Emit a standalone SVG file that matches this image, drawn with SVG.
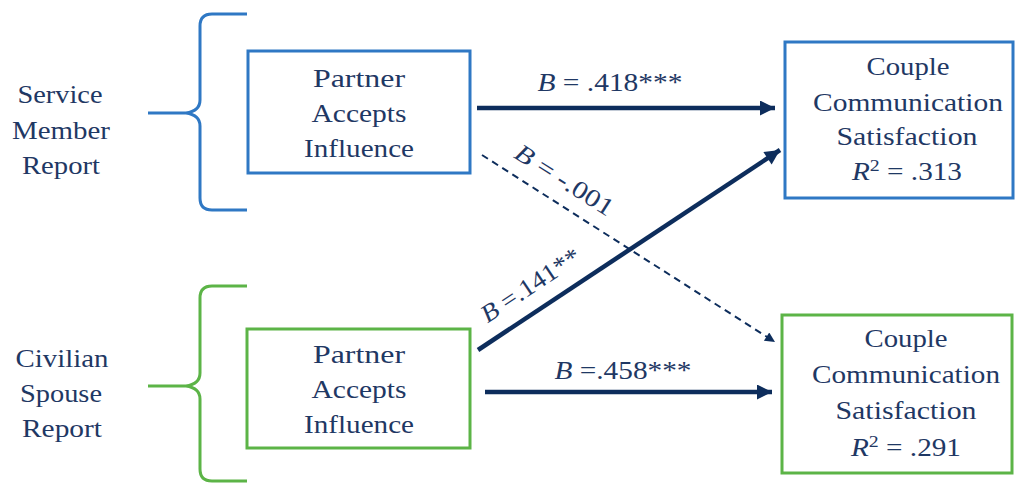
<svg xmlns="http://www.w3.org/2000/svg" width="1021" height="484" viewBox="0 0 1021 484">
<defs>
<style>
.t{font-family:"Liberation Serif","Times New Roman",serif;font-size:25px;fill:#1f3864;text-anchor:middle}
.blue{fill:none;stroke:#2f78c4;stroke-width:3}
.green{fill:none;stroke:#5cb447;stroke-width:3}
.box{fill:#fff}
.arr{fill:none;stroke:#0d2d5c;stroke-width:4.5}
.dash{fill:none;stroke:#0d2d5c;stroke-width:2;stroke-dasharray:7 5}
</style>
<marker id="ah" viewBox="0 0 10 10" refX="10" refY="5" markerUnits="userSpaceOnUse" markerWidth="20" markerHeight="15" orient="auto"><path d="M0,0 L10,5 L0,10 Z" fill="#0d2d5c"/></marker>
<marker id="ahs" viewBox="0 0 10 10" refX="10" refY="5" markerUnits="userSpaceOnUse" markerWidth="13" markerHeight="10" orient="auto"><path d="M0,0 L10,5 L0,10 Z" fill="#0d2d5c"/></marker>
</defs>
<rect width="1021" height="484" fill="#fff"/>

<g id="service-member-group">
<path class="blue" d="M247,14 H212 Q200,14 200,26 V100 Q200,111 186,113 H148 M186,113 Q200,115 200,126 V198 Q200,210 212,210 H247"/>
<text class="t" x="60" y="103" textLength="85" lengthAdjust="spacingAndGlyphs">Service</text>
<text class="t" x="61" y="139" textLength="98" lengthAdjust="spacingAndGlyphs">Member</text>
<text class="t" x="61" y="174" textLength="78" lengthAdjust="spacingAndGlyphs">Report</text>
</g>

<g id="civilian-spouse-group">
<path class="green" d="M247,286 H212 Q200,286 200,298 V373 Q200,384 186,386 H148 M186,386 Q200,388 200,399 V469 Q200,481 212,481 H247"/>
<text class="t" x="62" y="367" textLength="93" lengthAdjust="spacingAndGlyphs">Civilian</text>
<text class="t" x="61" y="402" textLength="82" lengthAdjust="spacingAndGlyphs">Spouse</text>
<text class="t" x="62" y="437" textLength="80" lengthAdjust="spacingAndGlyphs">Report</text>
</g>

<g id="sm-partner-accepts">
<rect class="blue box" x="248" y="51" width="222" height="122"/>
<text class="t" x="359" y="87" textLength="92" lengthAdjust="spacingAndGlyphs">Partner</text>
<text class="t" x="359" y="122" textLength="95" lengthAdjust="spacingAndGlyphs">Accepts</text>
<text class="t" x="359" y="157" textLength="110" lengthAdjust="spacingAndGlyphs">Influence</text>
</g>

<g id="cs-partner-accepts">
<rect class="green box" x="247" y="329" width="223" height="119"/>
<text class="t" x="359" y="363" textLength="92" lengthAdjust="spacingAndGlyphs">Partner</text>
<text class="t" x="359" y="398" textLength="95" lengthAdjust="spacingAndGlyphs">Accepts</text>
<text class="t" x="359" y="433" textLength="110" lengthAdjust="spacingAndGlyphs">Influence</text>
</g>

<g id="sm-satisfaction">
<rect class="blue box" x="785" y="42" width="228" height="156"/>
<text class="t" x="908" y="75" textLength="83" lengthAdjust="spacingAndGlyphs">Couple</text>
<text class="t" x="908" y="111" textLength="190" lengthAdjust="spacingAndGlyphs">Communication</text>
<text class="t" x="907" y="145" textLength="141" lengthAdjust="spacingAndGlyphs">Satisfaction</text>
<text class="t" x="907" y="180" textLength="110" lengthAdjust="spacingAndGlyphs"><tspan font-style="italic">R</tspan><tspan font-size="17" dy="-9">2</tspan><tspan dy="9"> = .313</tspan></text>
</g>

<g id="cs-satisfaction">
<rect class="green box" x="782" y="315" width="230" height="158"/>
<text class="t" x="906" y="347" textLength="83" lengthAdjust="spacingAndGlyphs">Couple</text>
<text class="t" x="906" y="383" textLength="188" lengthAdjust="spacingAndGlyphs">Communication</text>
<text class="t" x="906" y="419" textLength="141" lengthAdjust="spacingAndGlyphs">Satisfaction</text>
<text class="t" x="906" y="456" textLength="110" lengthAdjust="spacingAndGlyphs"><tspan font-style="italic">R</tspan><tspan font-size="17" dy="-9">2</tspan><tspan dy="9"> = .291</tspan></text>
</g>

<g id="connectors">
<line class="arr" x1="477" y1="108" x2="775" y2="108" marker-end="url(#ah)"/>
<line class="dash" x1="482" y1="155" x2="775" y2="342" marker-end="url(#ahs)"/>
<line class="arr" x1="478" y1="350" x2="780" y2="150" marker-end="url(#ah)"/>
<line class="arr" x1="485" y1="392" x2="772" y2="392" marker-end="url(#ah)"/>
<text class="t" x="610" y="91" textLength="145" lengthAdjust="spacingAndGlyphs"><tspan font-style="italic">B</tspan> = .418***</text>
<text class="t" x="623" y="379" textLength="137" lengthAdjust="spacingAndGlyphs"><tspan font-style="italic">B</tspan> =.458***</text>
<text class="t" x="560" y="187" textLength="112" lengthAdjust="spacingAndGlyphs" transform="rotate(32.5 560 187)"><tspan font-style="italic">B</tspan> = -.001</text>
<text class="t" x="535" y="292" textLength="114" lengthAdjust="spacingAndGlyphs" transform="rotate(-33.5 535 292)"><tspan font-style="italic">B</tspan> =.141**</text>
</g>
</svg>
